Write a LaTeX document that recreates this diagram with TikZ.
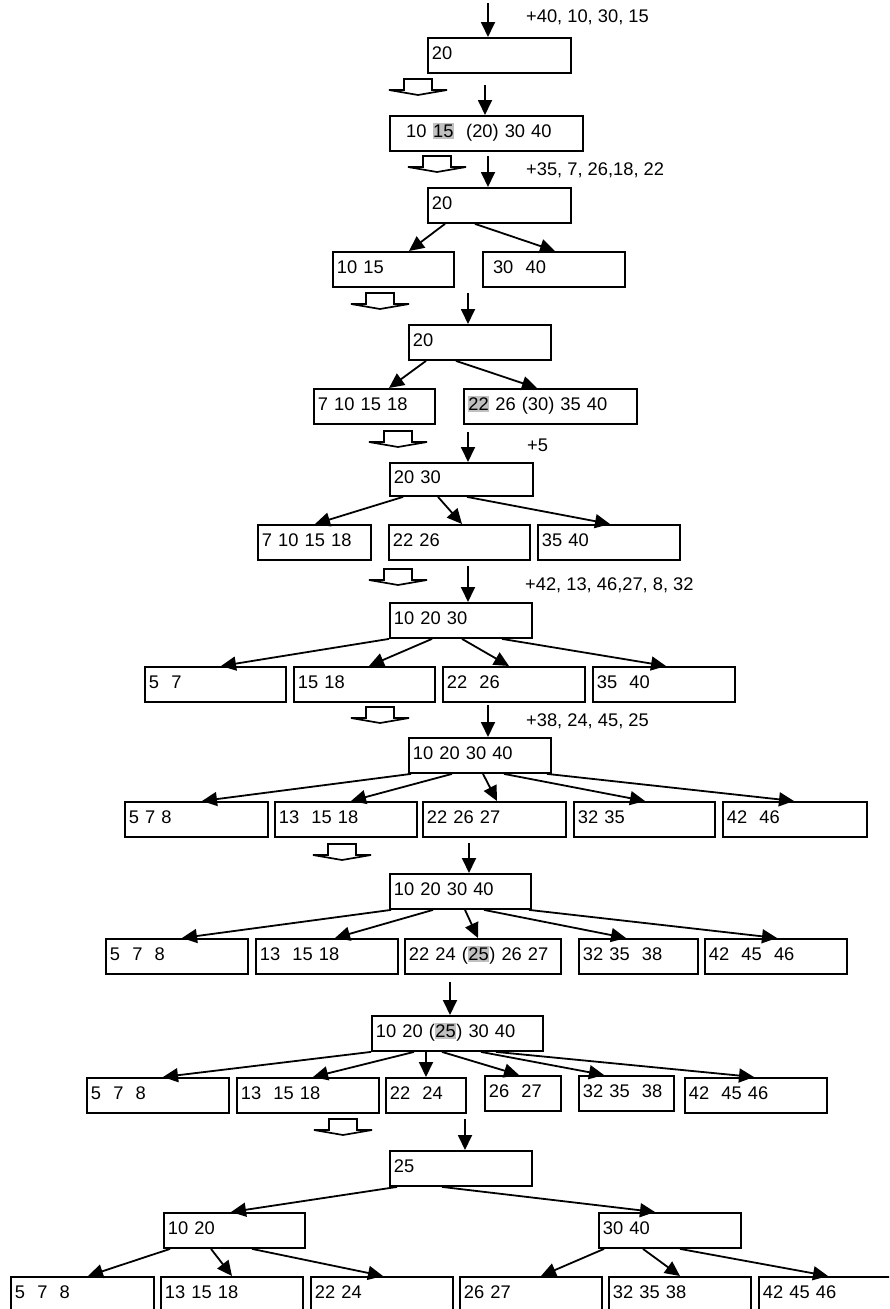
\documentclass[tikz,border=0pt]{standalone}
\usepackage{fontspec}
\setmainfont{Liberation Sans}
\usepackage{tikz}
\usetikzlibrary{calc,arrows.meta}
\definecolor{hlgray}{RGB}{192,192,192}
\newcommand{\grayed}[1]{{\setlength{\fboxsep}{0.5pt}\colorbox{hlgray}{\rule[-1.5pt]{0pt}{15.5pt}#1}}}
\tikzset{
  box/.style={draw, line width=1.9pt, anchor=north west, inner xsep=0pt, inner ysep=0pt,
    minimum height=35pt, text width=#1pt, align=left, text height=13pt, text depth=5pt,
    execute at begin node=\hspace*{4pt}},
  arr/.style={line width=1.8pt, -{Triangle[length=15pt,width=14pt]}},
  lab/.style={anchor=west, inner sep=0pt},
  fatarrow/.pic={\draw[line width=1.7pt, fill=white] (-14,0) -- (-14,11) -- (-29,11) -- (0,16) -- (29,11) -- (14,11) -- (14,0) -- cycle;}
}

\begin{document}
\begin{tikzpicture}[x=1pt,y=-1pt,font=\fontsize{18.3}{21}\selectfont]
  \useasboundingbox (0,0) rectangle (889,1309);
  \clip (0,0) rectangle (889,1309);
  % insert 40, 10, 30, 15
  \coordinate (in1) at (488,3);
  \node[lab] (t1) at (526,17) {+40, 10, 30, 15};
  \node[box=143] (p1) at (427,37) {20};
  \draw[arr] (in1) -- (in1 |- p1.north);
  \pic at (418,79) {fatarrow};
  \coordinate (in2) at (485,85);
  \node[box=193] (p2) at (389,115) {~~10 \grayed{15}~~(20) 30 40};
  \draw[arr] (in2) -- (in2 |- p2.north);
  % split, then insert 35, 7, 26, 18, 22
  \pic at (437,156) {fatarrow};
  \coordinate (in3) at (488,156);
  \node[lab] (t2) at (526,170) {+35, 7, 26,18, 22};
  \node[box=143] (p3) at (427,187) {20};
  \draw[arr] (in3) -- (in3 |- p3.north);
  \node[box=121] (q3a) at (332,251) {10 15};
  \node[box=142] (q3b) at (482,251) {~30~~40};
  \draw[arr] ([xshift=18]p3.south west) -- ([xshift=77]q3a.north west);
  \draw[arr] ([xshift=48]p3.south west) -- ([xshift=73]q3b.north west);
  \pic at (380,293) {fatarrow};
  \coordinate (in4) at (468,293);
  \node[box=142] (p4) at (408,324) {20};
  \draw[arr] (in4) -- (in4 |- p4.north);
  \node[box=121] (q4a) at (313,388) {7 10 15 18};
  \node[box=173] (q4b) at (463,388) {\grayed{22} 26 (30) 35 40};
  \draw[arr] ([xshift=18]p4.south west) -- ([xshift=76]q4a.north west);
  \draw[arr] ([xshift=48]p4.south west) -- ([xshift=74]q4b.north west);
  % insert 5
  \pic at (398,431) {fatarrow};
  \coordinate (in5) at (468,432);
  \node[lab] (t3) at (527,445) {+5};
  \node[box=143, minimum height=33pt] (p5) at (389,462) {20 30};
  \draw[arr] (in5) -- (in5 |- p5.north);
  \node[box=113] (q5a) at (257,524) {7 10 15 18};
  \node[box=141] (q5b) at (388,524) {22 26};
  \node[box=142] (q5c) at (537,524) {35 40};
  \draw[arr] ([xshift=14]p5.south west) -- ([xshift=58]q5a.north west);
  \draw[arr] ([xshift=49]p5.south west) -- ([xshift=74]q5b.north west);
  \draw[arr] ([xshift=78]p5.south west) -- ([xshift=73]q5c.north west);
  % insert 42, 13, 46, 27, 8, 32
  \pic at (398,569) {fatarrow};
  \coordinate (in6) at (468,566);
  \node[lab] (t4) at (525,585) {+42, 13, 46,27, 8, 32};
  \node[box=142] (p6) at (389,602) {10 20 30};
  \draw[arr] (in6) -- (in6 |- p6.north);
  \node[box=141] (q6a) at (144,666) {5~~7};
  \node[box=141] (q6b) at (293,666) {15 18};
  \node[box=142] (q6c) at (442,666) {22~~26};
  \node[box=142] (q6d) at (592,666) {35~~40};
  \draw[arr] ([xshift=0]p6.south west) -- ([xshift=77]q6a.north west);
  \draw[arr] ([xshift=43]p6.south west) -- ([xshift=76]q6b.north west);
  \draw[arr] ([xshift=73]p6.south west) -- ([xshift=67]q6c.north west);
  \draw[arr] ([xshift=113]p6.south west) -- ([xshift=74]q6d.north west);
  % insert 38, 24, 45, 25
  \pic at (380,707) {fatarrow};
  \coordinate (in7) at (488,705);
  \node[lab] (t5) at (526,721) {+38, 24, 45, 25};
  \node[box=142] (p7) at (408,737) {10 20 30 40};
  \draw[arr] (in7) -- (in7 |- p7.north);
  \node[box=143] (q7a) at (124,801) {5 7 8};
  \node[box=142] (q7b) at (274,801) {13~~15 18};
  \node[box=143] (q7c) at (422,801) {22 26 27};
  \node[box=141] (q7d) at (573,801) {32 35};
  \node[box=144] (q7e) at (722,801) {42~~46};
  \draw[arr] ([xshift=3]p7.south west) -- ([xshift=78]q7a.north west);
  \draw[arr] ([xshift=44]p7.south west) -- ([xshift=77]q7b.north west);
  \draw[arr] ([xshift=75]p7.south west) -- ([xshift=75]q7c.north west);
  \draw[arr] ([xshift=96]p7.south west) -- ([xshift=72]q7d.north west);
  \draw[arr] ([xshift=139]p7.south west) -- ([xshift=72]q7e.north west);
  \pic at (342,844) {fatarrow};
  \coordinate (in8) at (469,843);
  \node[box=141] (p8) at (389,873) {10 20 30 40};
  \draw[arr] (in8) -- (in8 |- p8.north);
  \node[box=142] (q8a) at (105,938) {5~~7~~8};
  \node[box=142] (q8b) at (255,938) {13~~15 18};
  \node[box=156] (q8c) at (404,938) {22 24 (\grayed{25}) 26 27};
  \node[box=119] (q8d) at (578,938) {32 35~~38};
  \node[box=142] (q8e) at (704,938) {42~~45~~46};
  \draw[arr] ([xshift=2]p8.south west) -- ([xshift=77]q8a.north west);
  \draw[arr] ([xshift=44]p8.south west) -- ([xshift=80]q8b.north west);
  \draw[arr] ([xshift=76]p8.south west) -- ([xshift=74]q8c.north west);
  \draw[arr] ([xshift=95]p8.south west) -- ([xshift=48]q8d.north west);
  \draw[arr] ([xshift=140]p8.south west) -- ([xshift=73]q8e.north west);
  % push 25 up
  \coordinate (in9) at (450,982);
  \node[box=171] (p9) at (371,1015) {10 20 (\grayed{25}) 30 40};
  \draw[arr] (in9) -- (in9 |- p9.north);
  \node[box=142] (q9a) at (86,1077) {5~~7~~8};
  \node[box=142] (q9b) at (236,1077) {13~~15 18};
  \node[box=80] (q9c) at (385,1077) {22~~24};
  \node[box=76] (q9d) at (484,1075) {26~~27};
  \node[box=95] (q9e) at (578,1075) {32 35~~38};
  \node[box=142] (q9f) at (684,1077) {42~~45 46};
  \draw[arr] ([xshift=0]p9.south west) -- ([xshift=77]q9a.north west);
  \draw[arr] ([xshift=43]p9.south west) -- ([xshift=77]q9b.north west);
  \draw[arr] ([xshift=55]p9.south west) -- ([xshift=41]q9c.north west);
  \draw[arr] ([xshift=71]p9.south west) -- ([xshift=35]q9d.north west);
  \draw[arr] ([xshift=110]p9.south west) -- ([xshift=26]q9e.north west);
  \draw[arr] ([xshift=125]p9.south west) -- ([xshift=70]q9f.north west);
  % new root
  \pic at (343,1119) {fatarrow};
  \coordinate (in10) at (465,1119);
  \node[box=142] (p10) at (389,1150) {25};
  \draw[arr] (in10) -- (in10 |- p10.north);
  \node[box=141] (m10a) at (163,1212) {10 20};
  \node[box=142] (m10b) at (598,1212) {30 40};
  \draw[arr] ([xshift=8]p10.south west) -- ([xshift=68]m10a.north west);
  \draw[arr] ([xshift=53]p10.south west) -- ([xshift=57]m10b.north west);
  \node[box=143] (l1) at (10,1276) {5~~7~~8};
  \node[box=142] (l2) at (160,1276) {13 15 18};
  \node[box=142] (l3) at (310,1276) {22 24};
  \node[box=142] (l4) at (459,1276) {26 27};
  \node[box=142] (l5) at (608,1276) {32 35 38};
  \node[box=142] (l6) at (758,1276) {42 45 46};
  \draw[arr] ([xshift=7]m10a.south west) -- ([xshift=78]l1.north west);
  \draw[arr] ([xshift=48]m10a.south west) -- ([xshift=72]l2.north west);
  \draw[arr] ([xshift=89]m10a.south west) -- ([xshift=73]l3.north west);
  \draw[arr] ([xshift=6]m10b.south west) -- ([xshift=82]l4.north west);
  \draw[arr] ([xshift=45]m10b.south west) -- ([xshift=72]l5.north west);
  \draw[arr] ([xshift=82]m10b.south west) -- ([xshift=70]l6.north west);
\end{tikzpicture}
\end{document}
